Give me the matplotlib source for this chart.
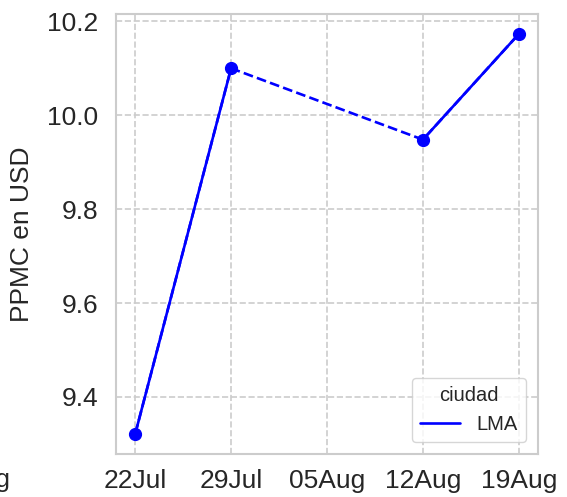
import matplotlib
matplotlib.use("Agg")
import matplotlib.pyplot as plt
import numpy as np
import pandas as pd
import seaborn as sns

sns.set_theme(style="whitegrid")
plt.rcParams['font.family'] = ['Liberation Sans', 'DejaVu Sans']

fechas = pd.to_datetime(["2024-07-22", "2024-07-29", "2024-08-05", "2024-08-12", "2024-08-19"])
valores = [9.321, 10.100, np.nan, 9.948, 10.173]
ciudad = "LMA"
tick_labels = ["22Jul", "29Jul", "05Aug", "12Aug", "19Aug"]

fig = plt.figure(figsize=(5.67, 4.97), dpi=100)
ax = fig.add_axes([116/567, 1 - 454/497, (538-116)/567, (454-14)/497])

s = pd.Series(valores, index=fechas)
valid = s.dropna()
ax.plot(valid.index, valid.values, color="blue", linestyle="--", linewidth=1.9, zorder=2)
ax.plot(s.index, s.values, color="blue", linestyle="-", linewidth=1.9, marker="o",
        markersize=8.5, label=ciudad, zorder=3)

ax.set_xticks(fechas)
ax.set_xticklabels(tick_labels)
ax.tick_params(axis='both', labelsize=19, length=0, labelcolor="#262626")
ax.tick_params(axis='x', pad=11)
ax.tick_params(axis='y', pad=13)
ax.set_ylabel("PPMC en USD", fontsize=19, labelpad=9, color="#262626")
ax.set_yticks([9.4, 9.6, 9.8, 10.0, 10.2])
ax.grid(True, linestyle="--", color="#cccccc", linewidth=1.2)
for sp in ax.spines.values():
    sp.set_color("#cccccc")
    sp.set_linewidth(1.5)

h = [plt.Line2D([], [], color="blue", linewidth=1.9)]
leg = ax.legend(h, [ciudad], title="ciudad", loc="lower right", fontsize=14.5, title_fontsize=14.5,
                frameon=True, borderaxespad=0.6)

fig.text(0.02, 1 - 480/497, "Aug", fontsize=19, ha="right", va="center", color="#262626")

fig.savefig("out.png", dpi=100)
